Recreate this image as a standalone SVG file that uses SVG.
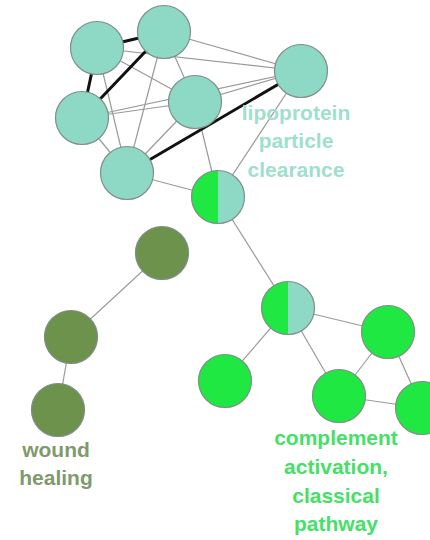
<svg xmlns="http://www.w3.org/2000/svg" width="430" height="540" viewBox="0 0 430 540">
<style>
.e{stroke:#9a9a9a;stroke-width:1.2;fill:none}
.t{stroke:#111;stroke-width:3;fill:none}
.n{stroke:#7f8f86;stroke-width:1.2}
.teal{fill:#8ed9c6}
.grn{fill:#1fe843}
.dk{fill:#6c924c}
.lbl{font-family:"Liberation Sans",Arial,sans-serif;font-weight:bold;font-size:21px;text-anchor:middle}
</style>
<rect width="430" height="540" fill="#fff"/>
<g id="connectors">
<line class="e" x1="97" y1="48" x2="301" y2="71"/>
<line class="e" x1="164" y1="32" x2="301" y2="71"/>
<line class="e" x1="97" y1="48" x2="195" y2="102"/>
<line class="e" x1="97" y1="48" x2="127" y2="173"/>
<line class="e" x1="164" y1="32" x2="195" y2="102"/>
<line class="e" x1="164" y1="32" x2="127" y2="173"/>
<line class="e" x1="82" y1="118" x2="195" y2="102"/>
<line class="e" x1="82" y1="118" x2="301" y2="71"/>
<line class="e" x1="195" y1="102" x2="301" y2="71"/>
<line class="e" x1="82" y1="118" x2="127" y2="173"/>
<line class="e" x1="127" y1="173" x2="195" y2="102"/>
<line class="e" x1="195" y1="102" x2="218" y2="197"/>
<line class="e" x1="301" y1="71" x2="218" y2="197"/>
<line class="e" x1="127" y1="173" x2="218" y2="197"/>
<line class="e" x1="218" y1="197" x2="288" y2="308"/>
<line class="e" x1="288" y1="308" x2="388" y2="332"/>
<line class="e" x1="288" y1="308" x2="225" y2="381"/>
<line class="e" x1="288" y1="308" x2="339" y2="396"/>
<line class="e" x1="388" y1="332" x2="339" y2="396"/>
<line class="e" x1="388" y1="332" x2="422" y2="408"/>
<line class="e" x1="339" y1="396" x2="422" y2="408"/>
<line class="e" x1="162" y1="253" x2="71" y2="337"/>
<line class="e" x1="71" y1="337" x2="58" y2="410"/>
<line class="t" x1="97" y1="48" x2="164" y2="32"/>
<line class="t" x1="97" y1="48" x2="82" y2="118"/>
<line class="t" x1="82" y1="118" x2="164" y2="32"/>
<line class="t" x1="127" y1="173" x2="301" y2="71"/>
</g>
<g id="nA"><circle class="n teal" cx="97" cy="48" r="26.5"/></g>
<g id="nB"><circle class="n teal" cx="164" cy="32" r="26.5"/></g>
<g id="nC"><circle class="n teal" cx="301" cy="71" r="26.5"/></g>
<g id="nD"><circle class="n teal" cx="82" cy="118" r="26.5"/></g>
<g id="nE"><circle class="n teal" cx="195" cy="102" r="26.5"/></g>
<g id="nF"><circle class="n teal" cx="127" cy="173" r="26.5"/></g>
<g id="nG">
<path class="grn" d="M218,170.5 A26.5,26.5 0 0 0 218,223.5 Z"/>
<path class="teal" d="M218,170.5 A26.5,26.5 0 0 1 218,223.5 Z"/>
<circle class="n" cx="218" cy="197" r="26.5" fill="none"/>
</g>
<g id="nH"><circle class="n dk" cx="162" cy="253" r="26.5"/></g>
<g id="nI"><circle class="n dk" cx="71" cy="337" r="26.5"/></g>
<g id="nJ"><circle class="n dk" cx="58" cy="410" r="26.5"/></g>
<g id="nK">
<path class="grn" d="M288,281.5 A26.5,26.5 0 0 0 288,334.5 Z"/>
<path class="teal" d="M288,281.5 A26.5,26.5 0 0 1 288,334.5 Z"/>
<circle class="n" cx="288" cy="308" r="26.5" fill="none"/>
</g>
<g id="nL"><circle class="n grn" cx="388" cy="332" r="26.5"/></g>
<g id="nM"><circle class="n grn" cx="225" cy="381" r="26.5"/></g>
<g id="nN"><circle class="n grn" cx="339" cy="396" r="26.5"/></g>
<g id="nO"><circle class="n grn" cx="422" cy="408" r="26.5"/></g>
<g id="labels">
<text class="lbl" fill="#9fe0cd" x="296" y="120">lipoprotein</text>
<text class="lbl" fill="#9fe0cd" x="296" y="148">particle</text>
<text class="lbl" fill="#9fe0cd" x="296" y="177">clearance</text>
<text class="lbl" fill="#46df68" x="336" y="445">complement</text>
<text class="lbl" fill="#46df68" x="336" y="474">activation,</text>
<text class="lbl" fill="#46df68" x="336" y="503">classical</text>
<text class="lbl" fill="#46df68" x="336" y="531">pathway</text>
<text class="lbl" fill="#7f9a6c" x="56" y="457">wound</text>
<text class="lbl" fill="#7f9a6c" x="56" y="485">healing</text>
</g>
</svg>
